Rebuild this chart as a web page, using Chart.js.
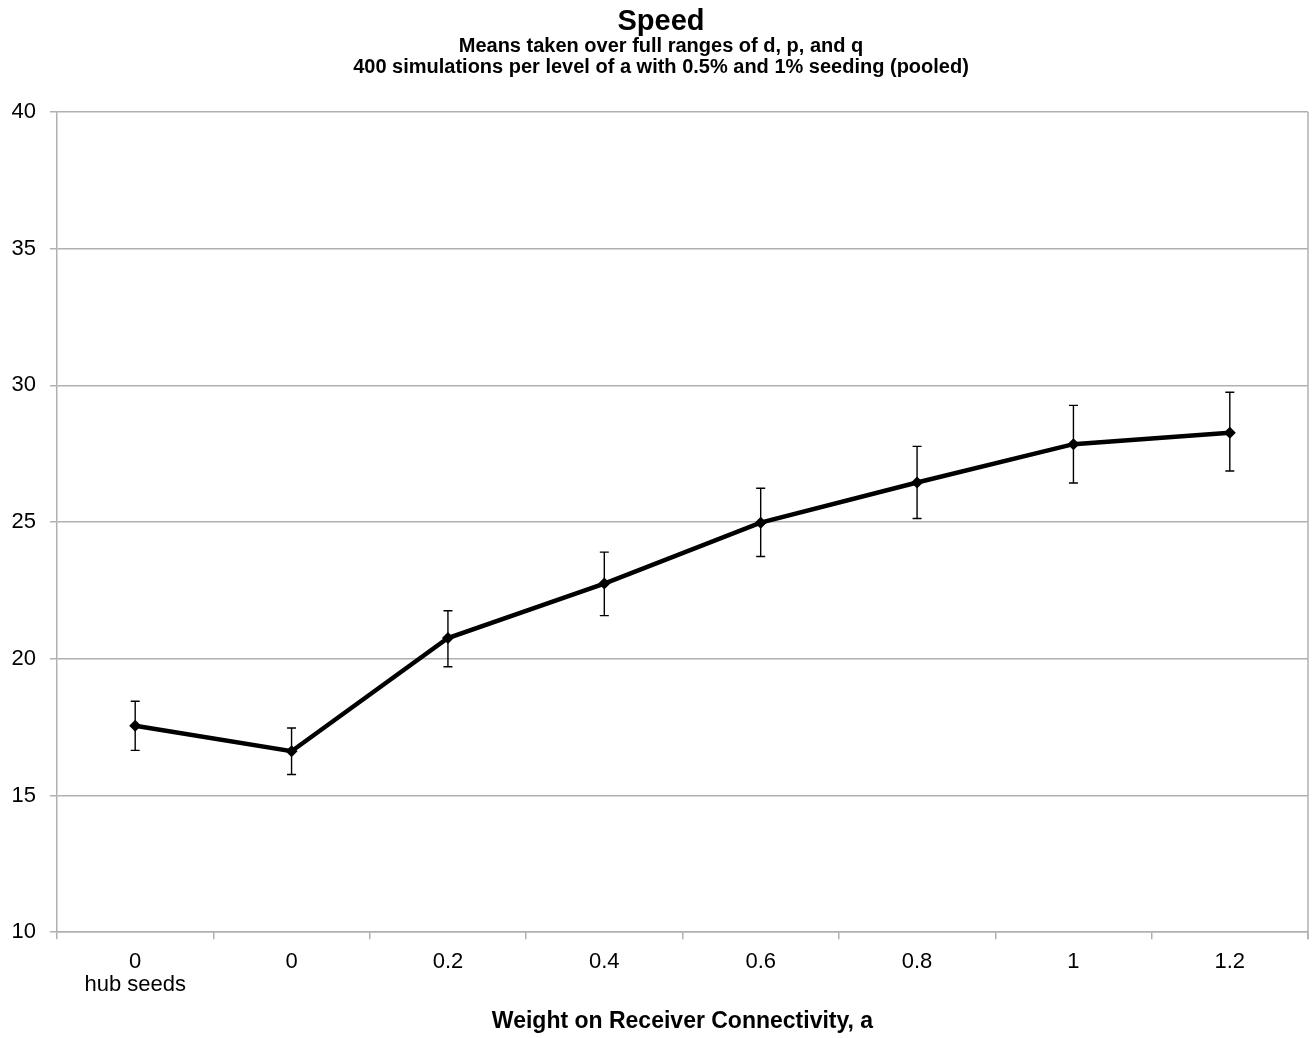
<!DOCTYPE html>
<html>
<head>
<meta charset="utf-8">
<script src="https://cdn.jsdelivr.net/npm/chart.js@4/dist/chart.umd.min.js"></script>
<style>
  html, body { margin: 0; padding: 0; background: #fff; }
  #wrap { width: 1314px; height: 1038px; }
</style>
</head>
<body>
<div id="wrap"><canvas id="myChart" width="1314" height="1038"></canvas></div>
<script>
"use strict";
const categories = [["0", "hub seeds"], "0", "0.2", "0.4", "0.6", "0.8", "1", "1.2"];
const speedMeans = [17.55, 16.62, 20.76, 22.75, 24.98, 26.45, 27.85, 28.27];
const errUpper = [0.9, 0.85, 1.0, 1.15, 1.26, 1.32, 1.42, 1.48];
const errLower = [0.9, 0.85, 1.05, 1.17, 1.24, 1.32, 1.42, 1.4];
const yTicks = [10, 15, 20, 25, 30, 35, 40];

const FONT = "'Liberation Sans', Arial, sans-serif";
const gridGray = "#b0b0b0";

const errorBars = {
    id: "errorBars",
    afterDatasetsDraw(chart) {
        const ctx = chart.ctx;
        const meta = chart.getDatasetMeta(0);
        const y = chart.scales.y;
        const area = chart.chartArea;
        ctx.save();
        // right border of the plot
        ctx.strokeStyle = gridGray;
        ctx.lineWidth = 1.5;
        ctx.beginPath();
        ctx.moveTo(area.right, area.top);
        ctx.lineTo(area.right, area.bottom + 7);
        ctx.stroke();

        ctx.strokeStyle = "#000";
        ctx.lineWidth = 1.4;
        meta.data.forEach((pt, i) => {
            const v = speedMeans[i];
            const top = y.getPixelForValue(v + errUpper[i]);
            const bot = y.getPixelForValue(v - errLower[i]);
            const x = pt.x;
            ctx.beginPath();
            ctx.moveTo(x, top);
            ctx.lineTo(x, bot);
            ctx.moveTo(x - 4.5, top);
            ctx.lineTo(x + 4.5, top);
            ctx.moveTo(x - 4.5, bot);
            ctx.lineTo(x + 4.5, bot);
            ctx.stroke();
        });
        ctx.restore();
    }
};

const ctx = document.querySelector("#myChart").getContext("2d");
const myChart = new Chart(ctx, {
    type: "line",
    data: {
        labels: categories,
        datasets: [{
            data: speedMeans,
            borderColor: "#000",
            borderWidth: 4.5,
            backgroundColor: "#000",
            pointStyle: "rectRot",
            pointRadius: 6,
            pointBorderWidth: 0,
            tension: 0
        }]
    },
    options: {
        responsive: false,
        animation: false,
        layout: { padding: { top: 7, left: 11, right: 3, bottom: 3 } },
        plugins: {
            legend: { display: false },
            tooltip: { enabled: false },
            title: {
                display: true,
                text: "Speed",
                color: "#000",
                font: { family: FONT, size: 29, weight: "bold", lineHeight: 1.0 },
                padding: { top: 0, bottom: 0 }
            },
            subtitle: {
                display: true,
                text: ["Means taken over full ranges of d, p, and q",
                       "400 simulations per level of a with 0.5% and 1% seeding (pooled)"],
                color: "#000",
                font: { family: FONT, size: 20, weight: "bold", lineHeight: 1.05 },
                padding: { top: 0, bottom: 34 }
            }
        },
        scales: {
            x: {
                offset: true,
                afterFit(axis) {
                    axis.paddingLeft = 0;
                    axis.paddingRight = 0;
                },
                grid: {
                    offset: true,
                    drawOnChartArea: false,
                    drawTicks: true,
                    tickLength: 7,
                    color: gridGray,
                    lineWidth: 1.5
                },
                border: { color: gridGray, width: 1.5 },
                ticks: {
                    color: "#000",
                    font: { family: FONT, size: 22, lineHeight: 1.05 },
                    padding: 11,
                    maxRotation: 0
                },
                title: {
                    display: true,
                    text: "Weight on Receiver Connectivity, a",
                    color: "#000",
                    font: { family: FONT, size: 23, weight: "bold" },
                    padding: { top: 0, bottom: 0 }
                }
            },
            y: {
                min: 10,
                max: 40,
                afterBuildTicks(axis) {
                    axis.ticks = yTicks.map(v => ({ value: v }));
                },
                afterFit(axis) {
                    axis.width = 46;
                },
                grid: {
                    color: gridGray,
                    lineWidth: 1.5,
                    tickLength: 7
                },
                border: { color: gridGray, width: 1.5 },
                ticks: {
                    color: "#000",
                    font: { family: FONT, size: 22 },
                    padding: 14
                }
            }
        }
    },
    plugins: [errorBars]
});
</script>
</body>
</html>
